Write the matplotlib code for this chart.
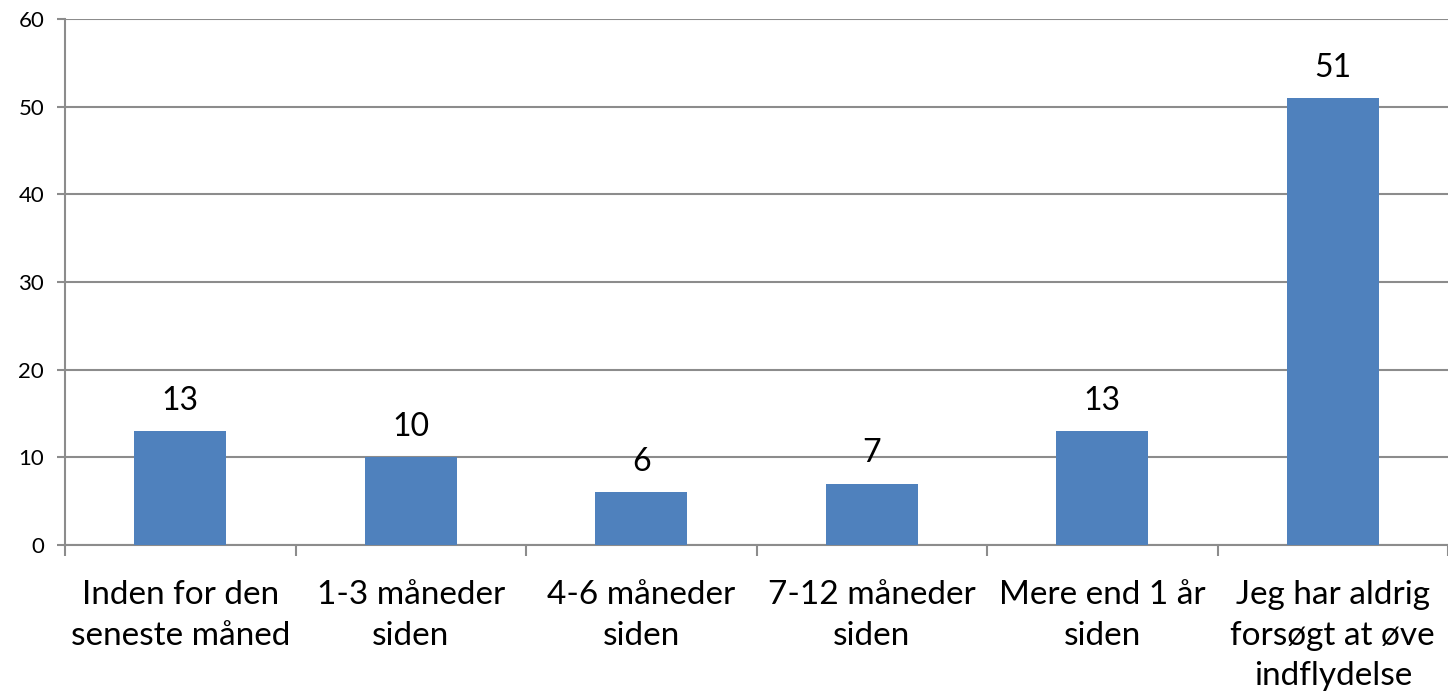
import numpy as np
from matplotlib import pyplot as plt

plt.rcParams['font.family'] = ['Lato', 'DejaVu Sans']

# Data
categories = ['Inden for den\nseneste måned', '1-3 måneder\nsiden', '4-6 måneder\nsiden',
              '7-12 måneder\nsiden', 'Mere end 1 år\nsiden', 'Jeg har aldrig\nforsøgt at øve\nindflydelse']
values = [13, 10, 6, 7, 13, 51]
yticks = [0, 10, 20, 30, 40, 50, 60]

grey = '#8c8c8c'
blue = '#4f81bd'

fig = plt.figure(figsize=(14.48, 6.96), dpi=100)
ax = fig.add_axes([65 / 1448, 1 - 545 / 696, 1 - 65 / 1448, (545 - 19) / 696])

x = np.arange(len(values))
ax.bar(x, values, width=0.4, color=blue, zorder=3)

for xi, v in zip(x, values):
    ax.annotate(str(v), (xi, v), xytext=(0, 11), textcoords='offset points',
                ha='center', va='bottom', fontsize=23)

ax.set_xlim(-0.5, len(values) - 0.5)
ax.set_ylim(0, 60)
ax.set_yticks(yticks)
ax.yaxis.grid(True, color=grey, linewidth=1.5, zorder=0)
ax.tick_params(axis='y', length=6, width=1.5, color=grey, labelsize=16, pad=9)

# category labels between boundary ticks
ax.set_xticks(x)
ax.set_xticklabels(categories, fontsize=24, linespacing=1.45)
ax.tick_params(axis='x', length=0, pad=25)
ax.set_xticks(np.arange(len(values) + 1) - 0.5, minor=True)
ax.tick_params(axis='x', which='minor', length=8, width=1.5, color=grey)

for s in ['top', 'right']:
    ax.spines[s].set_visible(False)
for s in ['left', 'bottom']:
    ax.spines[s].set_color(grey)
    ax.spines[s].set_linewidth(1.5)

fig.savefig('out.png', dpi=100)
